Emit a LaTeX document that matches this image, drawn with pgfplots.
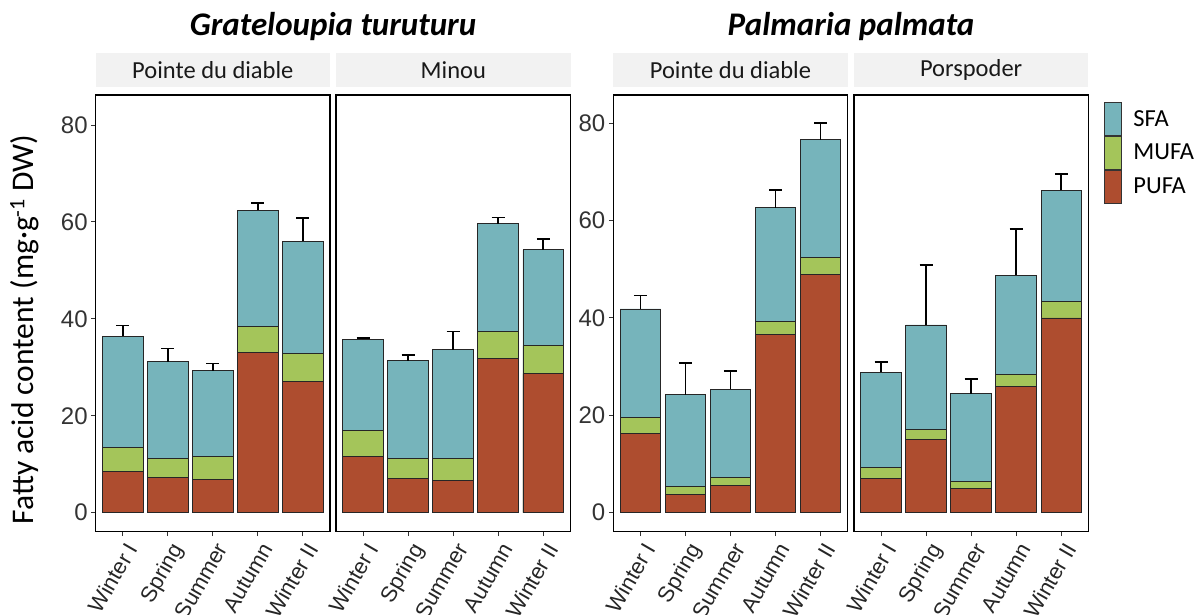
\documentclass[border=0pt]{standalone}
\usepackage{pgfplots}
\pgfplotsset{compat=1.18}
\usepackage{pgfplotstable}
\usepackage{fontspec}
\setmainfont{Carlito}
\newfontfamily\arialfont{Liberation Sans}
\definecolor{sfa}{RGB}{118,180,187}
\definecolor{mufa}{RGB}{164,197,90}
\definecolor{pufa}{RGB}{174,77,47}
\definecolor{stripgray}{RGB}{242,242,242}

% cumulative tops: pufa, pufa+mufa, total (pufa+mufa+sfa), upper error
\pgfplotstableread{
x pufa mufa total err
1 8.46 13.55 36.45 2.15
2 7.22 11.28 31.16 2.74
3 6.88 11.70 29.30 1.50
4 33.15 38.40 62.40 1.56
5 27.10 32.80 56.05 4.75
}\tA
\pgfplotstableread{
x pufa mufa total err
1 11.55 16.92 35.76 0.35
2 7.00 11.20 31.36 1.14
3 6.74 11.28 33.60 3.80
4 31.90 37.40 59.60 1.30
5 28.70 34.46 54.26 2.24
}\tB
\pgfplotstableread{
x pufa mufa total err
1 16.30 19.60 41.85 2.75
2 3.77 5.48 24.25 6.55
3 5.60 7.19 25.40 3.70
4 36.60 39.30 62.60 3.70
5 49.00 52.50 76.60 3.40
}\tC
\pgfplotstableread{
x pufa mufa total err
1 7.05 9.25 28.90 2.06
2 15.00 17.10 38.56 12.34
3 4.93 6.44 24.45 3.05
4 25.96 28.36 48.80 9.50
5 40.00 43.30 66.20 3.40
}\tD

\pgfplotsset{
  panel/.style={
    scale only axis, width=234.3pt, height=436.7pt, anchor=south west,
    ybar,
    xmin=0.4, xmax=5.6, xtick={1,2,3,4,5},
    xticklabels={Winter I,Spring,Summer,Autumn,Winter II},
    x tick label style={xshift=1pt, rotate=60, anchor=north east, font=\arialfont\fontsize{22}{22}\selectfont, text=black!85},
    y tick label style={font=\arialfont\fontsize{24}{24}\selectfont, text=black!80},
    /pgf/number format/assume math mode=true,
    tick pos=left,
    tick align=outside, major tick length=4.5pt,
    tick style={black!80, line width=1pt},
    axis line style={line width=1.1pt, black},
    axis background/.style={fill=white},
  },
  leftscale/.style={ymin=-3.92, ymax=86.2},
  rightscale/.style={ymin=-3.9, ymax=85.8},
  bars/.style={bar shift=0pt, bar width=0.9, draw=black!85, line width=0.9pt},
  errs/.style={error bars/.cd, y dir=plus, y explicit,
    error bar style={line width=1.6pt, black},
    error mark options={rotate=90, line width=1.6pt, black, mark size=6.5pt}},
}

\begin{document}
\begin{tikzpicture}
\useasboundingbox (0pt,0pt) rectangle (1201pt,614pt);

% ---- Grateloupia turuturu: Pointe du diable
\begin{axis}[panel, leftscale, at={(95.7pt,82.3pt)}, ytick={0,20,40,60,80}]
\addplot[bars, fill=sfa, errs] table[x=x, y=total, y error=err] {\tA};
\addplot[bars, fill=mufa] table[x=x, y=mufa] {\tA};
\addplot[bars, fill=pufa] table[x=x, y=pufa] {\tA};
\end{axis}
% ---- Grateloupia turuturu: Minou
\begin{axis}[panel, leftscale, at={(336pt,82.3pt)}, ytick=\empty]
\addplot[bars, fill=sfa, errs] table[x=x, y=total, y error=err] {\tB};
\addplot[bars, fill=mufa] table[x=x, y=mufa] {\tB};
\addplot[bars, fill=pufa] table[x=x, y=pufa] {\tB};
\end{axis}
% ---- Palmaria palmata: Pointe du diable
\begin{axis}[panel, rightscale, at={(613.3pt,82.3pt)}, ytick={0,20,40,60,80}]
\addplot[bars, fill=sfa, errs] table[x=x, y=total, y error=err] {\tC};
\addplot[bars, fill=mufa] table[x=x, y=mufa] {\tC};
\addplot[bars, fill=pufa] table[x=x, y=pufa] {\tC};
\end{axis}
% ---- Palmaria palmata: Porspoder
\begin{axis}[panel, rightscale, at={(854pt,82.3pt)}, ytick=\empty,
  legend image code/.code={\draw[#1, draw=black!80, line width=0.9pt] (0pt,-16.5pt) rectangle (17pt,16.5pt);},
  legend style={at={(1,1)}, anchor=north west, xshift=15pt, yshift=-6.7pt,
    draw=none, fill=none, inner sep=0pt, row sep=0pt,
    font=\fontsize{24.5}{24.5}\selectfont,
    /tikz/every odd column/.append style={column sep=10pt}},
  legend cell align=left]
\addplot[bars, fill=sfa, errs] table[x=x, y=total, y error=err] {\tD};
\addlegendentry{SFA}
\addplot[bars, fill=mufa] table[x=x, y=mufa] {\tD};
\addlegendentry{MUFA}
\addplot[bars, fill=pufa] table[x=x, y=pufa] {\tD};
\addlegendentry{PUFA}
\end{axis}

% strips
\fill[stripgray] (95.7pt,527.3pt) rectangle (330pt,560.7pt);
\fill[stripgray] (336pt,527.3pt) rectangle (570.7pt,560.7pt);
\fill[stripgray] (613.3pt,527.3pt) rectangle (847.7pt,560.7pt);
\fill[stripgray] (854pt,527.3pt) rectangle (1088.3pt,560.7pt);
\begin{scope}[every node/.style={font=\fontsize{24.5}{24.5}\selectfont, text=black!90}]
\node at (212.85pt,544pt) {Pointe du diable};
\node at (453.35pt,544pt) {Minou};
\node at (730.5pt,544pt) {Pointe du diable};
\node at (971.15pt,544pt) {Porspoder};
\end{scope}

% titles
\node[font=\bfseries\itshape\fontsize{33}{33}\selectfont, anchor=base] at (333pt,578pt) {Grateloupia turuturu};
\node[font=\bfseries\itshape\fontsize{33}{33}\selectfont, anchor=base] at (851pt,578pt) {Palmaria palmata};

% y label
\node[rotate=90, anchor=base, font=\fontsize{31.5}{31.5}\selectfont] at (33.3pt,284.5pt) {Fatty acid content (mg·g\textsuperscript{-1} DW)};
\end{tikzpicture}
\end{document}
